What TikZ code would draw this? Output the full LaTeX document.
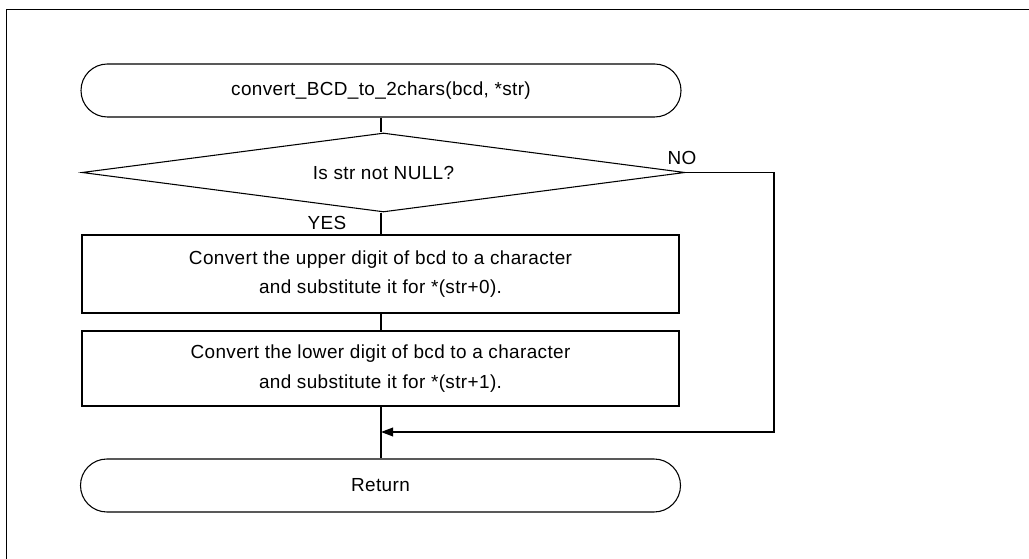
\documentclass[tikz,border=0pt]{standalone}
\usepackage{fontspec}
\setmainfont{Liberation Sans}
\newfontfamily\diafont[LetterSpace=2]{Liberation Sans}
\usetikzlibrary{shapes.geometric,arrows.meta}
\begin{document}
\begin{tikzpicture}[x=0.75pt,y=-0.75pt,
  every node/.style={font=\diafont\fontsize{14.2}{22}\selectfont},
  line/.style={draw=black,line width=0.8pt},
  term/.style={draw=black,line width=0.8pt,rounded corners=19.8pt,minimum width=450pt,minimum height=39.75pt,inner sep=0pt},
  procbox/.style={draw=black,line width=0.8pt,minimum width=447.75pt,inner sep=0pt,align=center},
  decision/.style={draw=black,line width=0.8pt,shape=diamond,aspect=7.63,minimum width=452.25pt,minimum height=59.25pt,inner sep=0pt},
  lbl/.style={inner sep=0pt}]
\useasboundingbox (0,0) rectangle (1029,559);
\draw[line] (6.5,570) -- (6.5,9.5) -- (1040,9.5);
\node[term] (start) at (381,90.5) {convert\_BCD\_to\_2chars(bcd, *str)};
\node[decision] (dec) at (383.5,172.5) {Is str not NULL?};
\node[procbox,minimum height=58.5pt] (b1) at (380.5,274) {Convert the upper digit of bcd to a character\\and substitute it for *(str+0).};
\node[procbox,minimum height=56.25pt] (b2) at (380.5,368.5) {Convert the lower digit of bcd to a character\\and substitute it for *(str+1).};
\node[term] (ret) at (380.5,485.5) {Return};
\node[lbl] (no) at (682,158) {NO};
\node[lbl] (yes) at (327,223) {YES};
\coordinate (merge) at (381,432);
\draw[line] (start.south -| 381,0) -- (381,0 |- dec.north);
\draw[line] (381,0 |- dec.south) -- (381,0 |- b1.north);
\draw[line] (381,0 |- b1.south) -- (381,0 |- b2.north);
\draw[line] (381,0 |- b2.south) -- (381,0 |- ret.north);
\draw[line width=1.1pt,-{Triangle[length=9pt,width=6.5pt]}] (dec.east) -- (774,172.5) -- (774,432) -- (merge);
\end{tikzpicture}
\end{document}
